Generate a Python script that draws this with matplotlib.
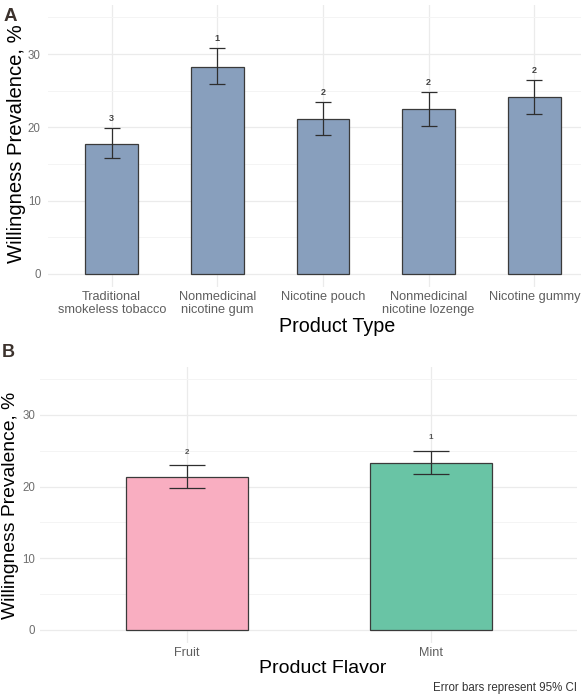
import matplotlib.pyplot as plt
from matplotlib.ticker import MultipleLocator

plt.rcParams["font.family"] = ["Liberation Sans", "DejaVu Sans"]

# panel A data
types = ["Traditional\nsmokeless tobacco", "Nonmedicinal\nnicotine gum", "Nicotine pouch",
         "Nonmedicinal\nnicotine lozenge", "Nicotine gummy"]
type_prev = [17.8, 28.3, 21.1, 22.5, 24.2]
type_lo = [15.8, 25.9, 18.95, 20.2, 21.8]
type_hi = [19.95, 30.8, 23.4, 24.8, 26.5]
type_rank = ["3", "1", "2", "2", "2"]

# panel B data
flavors = ["Fruit", "Mint"]
flavor_prev = [21.4, 23.3]
flavor_lo = [19.85, 21.7]
flavor_hi = [23.0, 25.0]
flavor_rank = ["2", "1"]
flavor_colors = ["#F9AEC1", "#69C4A5"]

W, H = 581, 697
fig = plt.figure(figsize=(W / 100, H / 100), dpi=100)


def px_axes(left, top, right, bottom):
    return fig.add_axes([left / W, 1 - bottom / H, (right - left) / W, (bottom - top) / H])


def style(ax, tick_fs, ytick_pad):
    ax.set_ylim(-1.75, 36.75)
    ax.yaxis.set_major_locator(MultipleLocator(10))
    ax.yaxis.set_minor_locator(MultipleLocator(5))
    ax.grid(True, which="major", color="#EBEBEB", lw=0.9)
    ax.grid(True, which="minor", axis="y", color="#F4F4F4", lw=0.7)
    ax.set_axisbelow(True)
    for s in ax.spines.values():
        s.set_visible(False)
    ax.tick_params(which="both", length=0)
    ax.tick_params(axis="y", labelsize=8.3, labelcolor="#6E6E6E", pad=ytick_pad)
    ax.tick_params(axis="x", labelsize=tick_fs, labelcolor="#5E5E5E", pad=3)


# ---- A
ax1 = px_axes(48.3, 4.6, 597.7, 286.8)
x1 = list(range(len(types)))
ax1.bar(x1, type_prev, width=0.5, color="#889FBD", edgecolor="#3A3A3A", lw=0.9, zorder=2)
err1 = [[p - l for p, l in zip(type_prev, type_lo)], [h - p for p, h in zip(type_prev, type_hi)]]
ax1.errorbar(x1, type_prev, yerr=err1, fmt="none", ecolor="#2E2E2E", elinewidth=0.9,
             capsize=5.6, capthick=0.9, zorder=3)
for xi, hi, r in zip(x1, type_hi, type_rank):
    ax1.text(xi, hi + 1.3, r, ha="center", va="center", fontsize=6.5, fontweight="bold", color="#444444")
ax1.set_xlim(-0.6, 4.6)
ax1.set_xticks(x1)
ax1.set_xticklabels(types, linespacing=1.1)
style(ax1, 9.2, 5.5)
ax1.set_xlabel("Product Type", fontsize=14.2, va="center")
ax1.xaxis.set_label_coords(0.5266, -0.139)
ax1.set_ylabel("Willingness Prevalence, %", fontsize=14.6, va="center", ha="center")
ax1.yaxis.set_label_coords(-0.057, 0.506)

# ---- B
ax2 = px_axes(40.3, 366.6, 577.0, 642.5)
x2 = list(range(len(flavors)))
ax2.bar(x2, flavor_prev, width=0.5, color=flavor_colors, edgecolor="#3A3A3A", lw=0.9, zorder=2)
err2 = [[p - l for p, l in zip(flavor_prev, flavor_lo)], [h - p for p, h in zip(flavor_prev, flavor_hi)]]
ax2.errorbar(x2, flavor_prev, yerr=err2, fmt="none", ecolor="#2E2E2E", elinewidth=0.9,
             capsize=12.8, capthick=0.9, zorder=3)
for xi, hi, r in zip(x2, flavor_hi, flavor_rank):
    ax2.text(xi, hi + 1.8, r, ha="center", va="center", fontsize=5.8, fontweight="bold", color="#555555")
ax2.set_xlim(-0.6, 1.6)
ax2.set_xticks(x2)
ax2.set_xticklabels(flavors)
style(ax2, 9.1, 3.8)
ax2.set_xlabel("Product Flavor", fontsize=14.0, va="center")
ax2.xaxis.set_label_coords(0.5267, -0.096)
ax2.set_ylabel("Willingness Prevalence, %", fontsize=13.9, va="center", ha="center")
ax2.yaxis.set_label_coords(-0.055, 0.4987)

fig.text(10.5 / W, 1 - 16.5 / H, "A", fontsize=13.5, fontweight="bold", color="#3C322D", ha="center", va="center")
fig.text(8.5 / W, 1 - 352.5 / H, "B", fontsize=13, fontweight="bold", color="#3C322D", ha="center", va="center")
fig.text(576.7 / W, 1 - 688 / H, "Error bars represent 95% CI", fontsize=8.3, color="#333333",
         ha="right", va="center")

fig.savefig("out.png", dpi=100)
